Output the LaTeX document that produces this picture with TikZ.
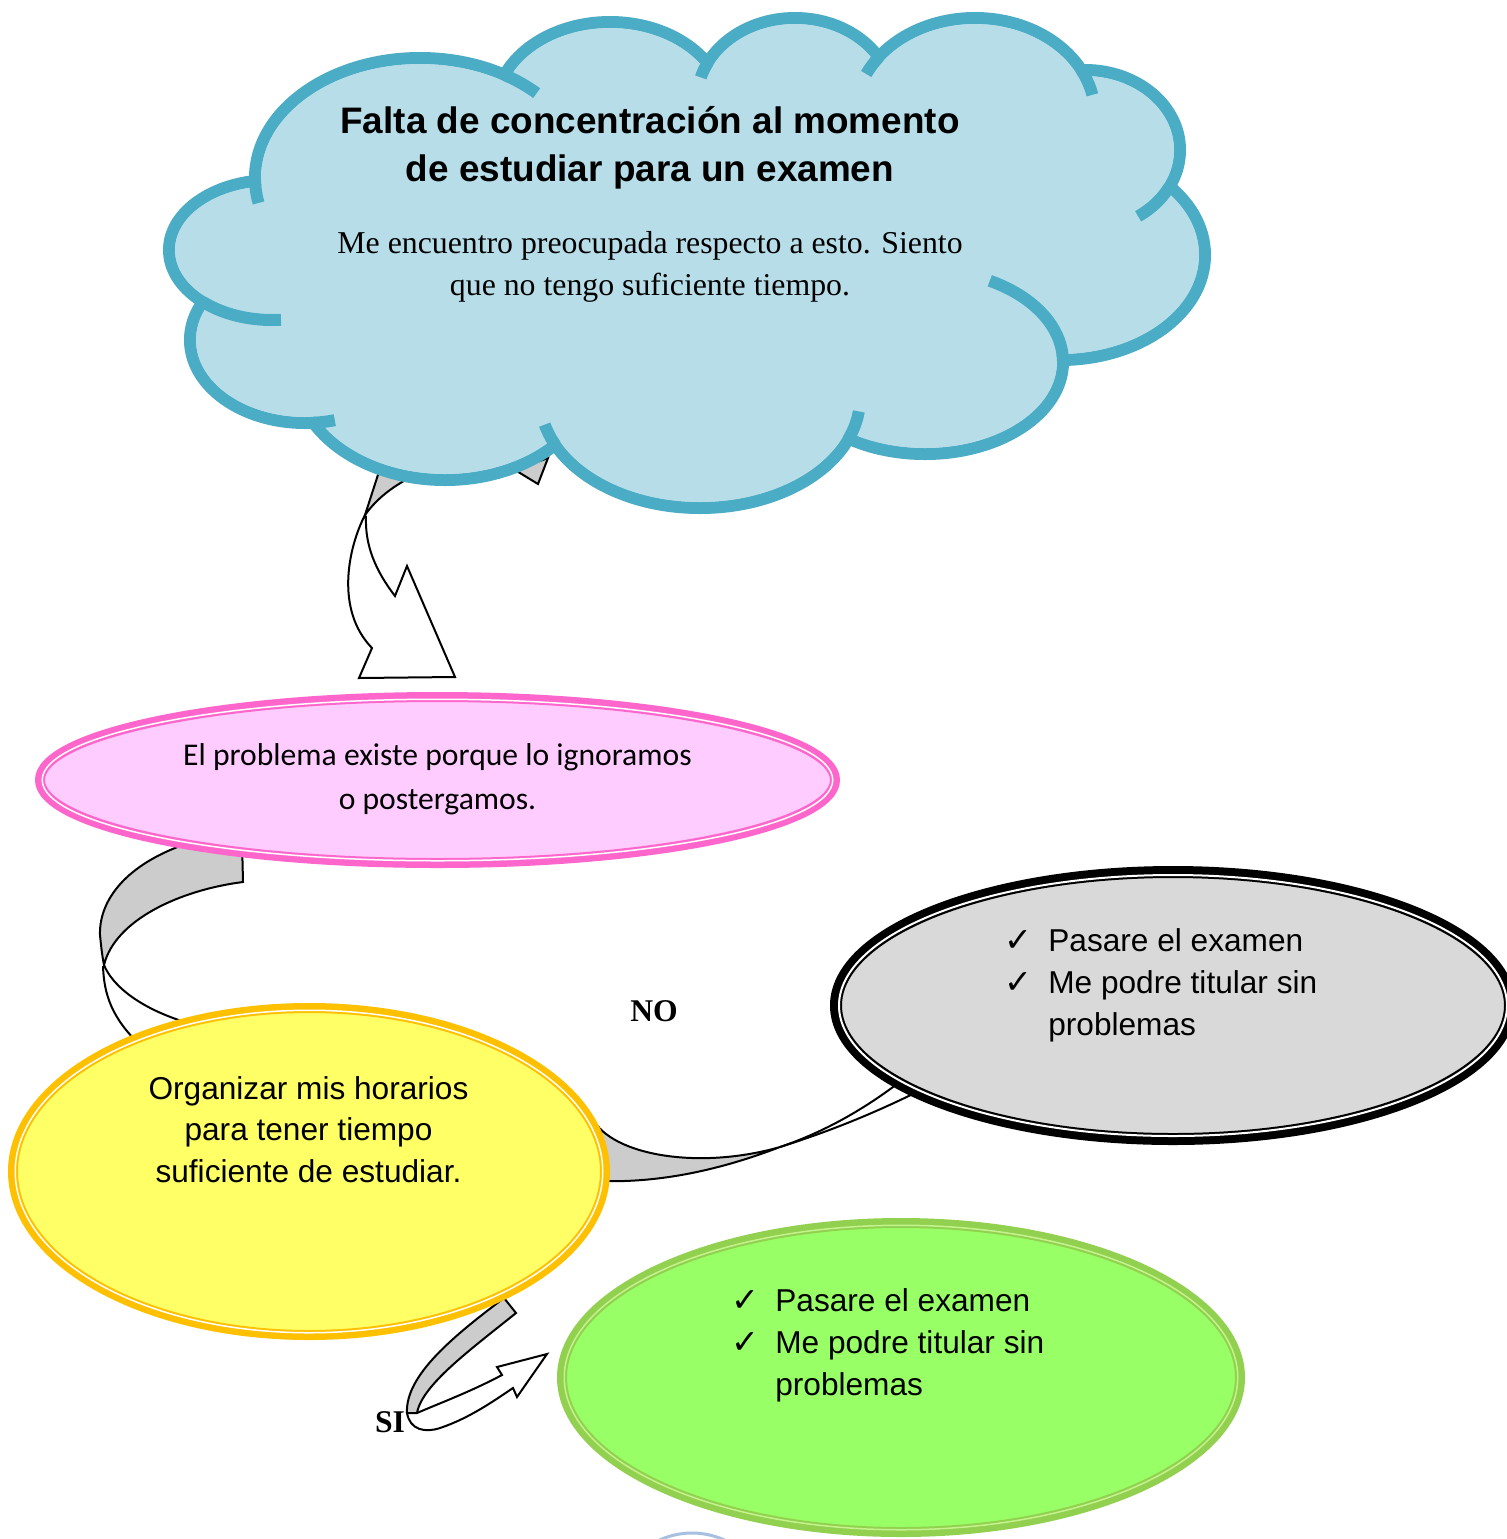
\documentclass[tikz,border=0pt]{standalone}
\usepackage{fontspec}
\setmainfont{Liberation Serif}
\setsansfont{Liberation Sans}
\newfontfamily\calibrifont{Carlito}
\newfontfamily\checkfont{DejaVu Sans}
\newdimen\pxu \pxu=0.02cm
\definecolor{cloudfill}{HTML}{B7DEE8}
\definecolor{cloudedge}{HTML}{4BACC6}
\definecolor{pinkfill}{HTML}{FFCCFF}
\definecolor{pinkedge}{HTML}{FF66CC}
\definecolor{yellowfill}{HTML}{FFFF66}
\definecolor{yellowedge}{HTML}{FFC000}
\definecolor{grayfill}{HTML}{D9D9D9}
\definecolor{greenfill}{HTML}{99FF66}
\definecolor{greenedge}{HTML}{92D050}
\definecolor{greenmid}{HTML}{C4F28C}
\definecolor{arrowgray}{HTML}{CCCCCC}
\definecolor{ringblue}{HTML}{A7C0E0}
\newcommand\cloudpath[1]{%
 (420,178) ellipse [x radius=165-#1, y radius=120-#1]
 (610,110) ellipse [x radius=115-#1, y radius=88-#1]
 (795,100) ellipse [x radius=98-#1, y radius=82-#1]
 (975,115) ellipse [x radius=120-#1, y radius=97-#1]
 (1085,150) ellipse [x radius=95-#1, y radius=80-#1]
 (1060,255) ellipse [x radius=145-#1, y radius=105-#1]
 (925,362) ellipse [x radius=138-#1, y radius=92-#1]
 (700,398) ellipse [x radius=160-#1, y radius=110-#1]
 (445,370) ellipse [x radius=150-#1, y radius=110-#1]
 (305,340) ellipse [x radius=115-#1, y radius=83-#1]
 (272,250) ellipse [x radius=103-#1, y radius=70-#1]}
\newcommand\cloudstub[6]{\draw[cloudedge, line width=12\pxu] plot[domain=#5:#6, samples=20] ({#1+#3*cos(\x)},{#2+#4*sin(\x)});}
\newcommand\chk{\makebox[44\pxu][l]{\checkfont\fontsize{19}{20}\selectfont ✓}}
\begin{document}
\begin{tikzpicture}[x=0.02cm, y=-0.02cm,
  arrowline/.style={draw=black, line width=2\pxu, line join=miter},
  textnode/.style={inner sep=0pt, anchor=base}]
\clip (0,0) rectangle (1507,1539);
\fill[white] (0,0) rectangle (1507,1539);

% ---------- block arrows (behind the shapes) ----------
% cloud -> pink
\draw[arrowline, fill=arrowgray] (386,450) -- (365,515) .. controls (378,497) and (395,484) .. (425,470) -- (425,450) -- cycle;
\draw[arrowline, fill=arrowgray] (515,470) -- (538,484) -- (548,458) -- cycle;
\draw[arrowline, fill=white] (365,515) .. controls (348,548) and (335,610) .. (372,648) -- (359,678) -- (455,677) -- (407,566) -- (395,596) .. controls (375,570) and (365,545) .. (366,517) -- cycle;
% pink -> yellow
\draw[arrowline, fill=arrowgray] (182,838) -- (180,846) .. controls (122,868) and (99,903) .. (100,935) .. controls (101,945) and (102,955) .. (104,965) .. controls (115,920) and (180,890) .. (243,882) -- (242,840) -- cycle;
\draw[arrowline] (103,966) .. controls (104,995) and (112,1018) .. (140,1045);
\draw[arrowline] (104,965) .. controls (112,985) and (140,1010) .. (195,1025);
% yellow -> gray (NO)
\draw[arrowline, fill=arrowgray] (592,1118) .. controls (612,1156) and (700,1170) .. (780,1147) .. controls (720,1170) and (660,1183) .. (600,1181) -- cycle;
\draw[arrowline] (780,1147) .. controls (830,1130) and (870,1105) .. (905,1078);
\draw[arrowline] (780,1147) .. controls (840,1128) and (885,1108) .. (925,1088);
% yellow -> green (SI)
\draw[arrowline, fill=arrowgray] (504,1298) -- (516,1313) .. controls (470,1350) and (422,1385) .. (417,1413) -- (407,1413) .. controls (405,1375) and (455,1335) .. (504,1298) -- cycle;
\draw[arrowline, fill=white] (407,1413) .. controls (410,1430) and (425,1433) .. (440,1428) .. controls (470,1418) and (495,1400) .. (513,1388) -- (517,1397) -- (547,1354) -- (497,1367) -- (502,1375) .. controls (470,1392) and (440,1403) .. (417,1413) -- cycle;

% ---------- ellipses ----------
% pink
\fill[pinkfill] (437.5,780) ellipse [x radius=397.5, y radius=83];
\draw[pinkedge, line width=10\pxu] (437.5,780) ellipse [x radius=397.5, y radius=83];
\draw[white, line width=1.5\pxu] (437.5,780) ellipse [x radius=395.25, y radius=80.75];
% yellow
\fill[yellowfill] (309,1171.5) ellipse [x radius=296, y radius=163.5];
\draw[yellowedge, line width=10\pxu] (309,1171.5) ellipse [x radius=296, y radius=163.5];
\draw[white, line width=1.5\pxu] (309,1171.5) ellipse [x radius=293.75, y radius=161.25];
% gray
\fill[grayfill] (1173,1005.5) ellipse [x radius=337, y radius=133.5];
\draw[black, line width=12\pxu] (1173,1005.5) ellipse [x radius=337, y radius=133.5];
\draw[white, line width=2\pxu] (1173,1005.5) ellipse [x radius=334, y radius=130.5];
% green
\fill[greenfill] (901,1377.5) ellipse [x radius=339, y radius=154.5];
\draw[greenedge, line width=10\pxu] (901,1377.5) ellipse [x radius=339, y radius=154.5];
\draw[greenmid, line width=1.5\pxu] (901,1377.5) ellipse [x radius=336.75, y radius=152.25];
% partial ring at the bottom
\draw[ringblue, line width=3\pxu, fill=white] (692,1611) circle (78);

% ---------- cloud ----------
\fill[cloudfill] \cloudpath{0};
\draw[cloudedge, line width=12\pxu] \cloudpath{0};
\fill[cloudfill] \cloudpath{6};
\fill[cloudfill] (282,186) -- (510,100) -- (708,88) -- (876,84) -- (1068,95) -- (1140,196) -- (1045,340) -- (842,413) -- (556,420) -- (322,398) -- (230,298) -- cycle;
\cloudstub{420}{178}{165}{120}{168}{179}
\cloudstub{420}{178}{165}{120}{301}{315}
\cloudstub{795}{100}{98}{82}{196}{207.5}
\cloudstub{975}{115}{120}{97}{205}{217}
\cloudstub{975}{115}{120}{97}{332}{348}
\cloudstub{1085}{150}{95}{80}{27.8}{56}
\cloudstub{925}{362}{138}{92}{298}{359}
\cloudstub{700}{398}{160}{110}{7}{22.3}
\cloudstub{700}{398}{160}{110}{155}{166}
\cloudstub{305}{340}{115}{83}{75}{87}
\cloudstub{272}{250}{103}{70}{85}{132}

% ---------- texts ----------
\node[textnode, font=\sffamily\bfseries\fontsize{21}{27.8}\selectfont] (title) at (650,133)
  {\begin{tabular}[t]{@{}c@{}}Falta de concentración al momento\\de estudiar para un examen\end{tabular}};
\node[textnode, font=\rmfamily\fontsize{18.1}{24.4}\selectfont] (body) at (650,253)
  {\begin{tabular}[t]{@{}c@{}}Me encuentro preocupada respecto a esto. Siento\\que no tengo suficiente tiempo.\end{tabular}};
\node[textnode, font=\calibrifont\fontsize{18}{25.5}\selectfont] (pinktext) at (437.5,765)
  {\begin{tabular}[t]{@{}c@{}}El problema existe porque lo ignoramos\\o postergamos.\end{tabular}};
\node[textnode, font=\sffamily\fontsize{18}{23.8}\selectfont] (yellowtext) at (308.5,1099)
  {\begin{tabular}[t]{@{}c@{}}Organizar mis horarios\\para tener tiempo\\suficiente de estudiar.\end{tabular}};
\node[textnode, anchor=base west, font=\sffamily\fontsize{18}{24.1}\selectfont] (graytext) at (1004,951)
  {\begin{tabular}[t]{@{}l@{}l@{}}\chk & Pasare el examen\\\chk & Me podre titular sin\\ & problemas\end{tabular}};
\node[textnode, anchor=base west, font=\sffamily\fontsize{18}{24.1}\selectfont] (greentext) at (731,1311)
  {\begin{tabular}[t]{@{}l@{}l@{}}\chk & Pasare el examen\\\chk & Me podre titular sin\\ & problemas\end{tabular}};
\node[textnode, font=\rmfamily\bfseries\fontsize{18}{20}\selectfont] (no) at (654,1021) {NO};
\node[textnode, font=\rmfamily\bfseries\fontsize{18}{20}\selectfont] (si) at (390,1432) {SI};
\end{tikzpicture}
\end{document}
